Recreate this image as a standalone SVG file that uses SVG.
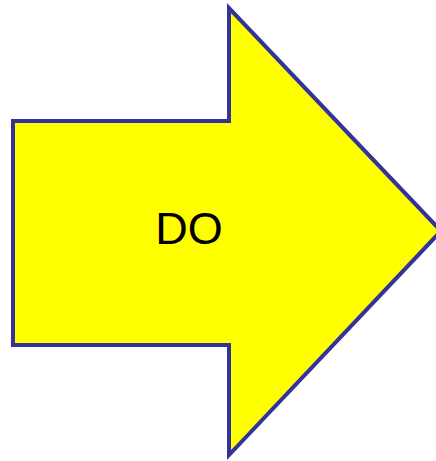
<svg xmlns="http://www.w3.org/2000/svg" width="436" height="461" viewBox="0 0 436 461">
<style>
.arrow{fill:#ffff00;stroke:#333399;stroke-width:4;stroke-linejoin:miter;stroke-miterlimit:10}
.lbl{font-family:"Liberation Sans",Arial,sans-serif;font-size:45px;fill:#000;text-anchor:middle}
</style>
<g id="do-arrow">
<polygon class="arrow" points="13,121 229,121 229,8 441,231 229,455 229,345 13,345"/>
<text class="lbl" x="189" y="244">DO</text>
</g>
</svg>
